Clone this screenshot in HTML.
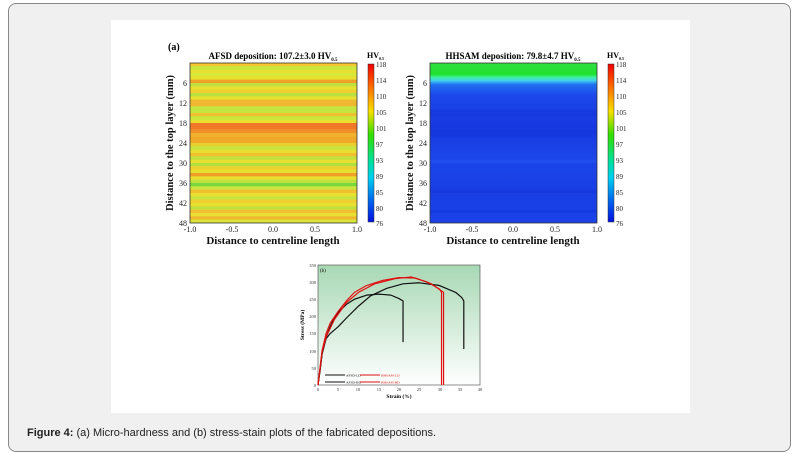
<!DOCTYPE html>
<html><head><meta charset="utf-8"><style>
html,body{margin:0;padding:0;background:#fff;}
body{width:801px;height:454px;position:relative;overflow:hidden;font-family:"Liberation Sans",sans-serif;}
#frame{position:absolute;left:8px;top:3px;width:781px;height:447px;border:1px solid #888;border-radius:8px;background:#f0f0f0;}
#white{position:absolute;left:111px;top:20px;width:579px;height:393px;background:#fff;}
#cap{position:absolute;left:27px;top:427px;font-size:11px;color:#222;}
svg{position:absolute;left:0;top:0;}
</style></head><body>
<div id="frame"></div>
<div id="white"></div>
<div id="cap"><b>Figure 4:</b> (a) Micro-hardness and (b) stress-stain plots of the fabricated depositions.</div>
<svg width="801" height="454" viewBox="0 0 801 454" font-family="Liberation Serif, serif">
<defs>
<linearGradient id="cb" x1="0" y1="0" x2="0" y2="1">
<stop offset="0" stop-color="#f00000"/><stop offset="0.15" stop-color="#ff7000"/><stop offset="0.3" stop-color="#f8e000"/><stop offset="0.45" stop-color="#30e000"/><stop offset="0.62" stop-color="#00e0a0"/><stop offset="0.72" stop-color="#00d0f0"/><stop offset="0.85" stop-color="#0070f0"/><stop offset="1" stop-color="#0010e0"/>
</linearGradient>
<linearGradient id="bg" x1="0" y1="0" x2="0" y2="1"><stop offset="0" stop-color="#a8d8b4"/><stop offset="1" stop-color="#ffffff"/></linearGradient>
<filter id="bl"><feGaussianBlur stdDeviation="0 0.6"/></filter>
</defs>
<text x="168" y="50" font-size="10" font-weight="bold">(a)</text>
<!-- left heatmap -->
<svg x="190" y="63" width="167" height="160" viewBox="0 0 1 48" preserveAspectRatio="none">
<g>
<rect x="0" y="0" width="1" height="48" fill="#e8e030"/>
<rect x="0" y="0" width="1" height="1" fill="#f5c830"/><rect x="0" y="1" width="1" height="1" fill="#c8e840"/><rect x="0" y="3" width="1" height="1" fill="#d8e838"/><rect x="0" y="5" width="1" height="1" fill="#f0a028"/><rect x="0" y="6" width="1" height="1" fill="#c0e040"/><rect x="0" y="8" width="1" height="1" fill="#f0d030"/><rect x="0" y="9" width="1" height="1" fill="#b8e040"/><rect x="0" y="11" width="1" height="2" fill="#f0b830"/><rect x="0" y="13" width="1" height="2" fill="#c4e440"/><rect x="0" y="15" width="1" height="1" fill="#f0c030"/><rect x="0" y="16" width="1" height="1" fill="#c8e840"/><rect x="0" y="18" width="1" height="2" fill="#f07828"/><rect x="0" y="20" width="1" height="1" fill="#f09028"/><rect x="0" y="21" width="1" height="1" fill="#f0b030"/><rect x="0" y="22" width="1" height="2" fill="#f0a828"/><rect x="0" y="24" width="1" height="1" fill="#e8d030"/><rect x="0" y="25" width="1" height="1" fill="#c8e440"/><rect x="0" y="27" width="1" height="1" fill="#f0c030"/><rect x="0" y="28" width="1" height="1" fill="#c0e040"/><rect x="0" y="30" width="1" height="1" fill="#b0e040"/><rect x="0" y="31" width="1" height="1" fill="#f0d030"/><rect x="0" y="33" width="1" height="1" fill="#f0a028"/><rect x="0" y="35" width="1" height="1" fill="#c0e040"/><rect x="0" y="36" width="1" height="1" fill="#78d840"/><rect x="0" y="37" width="1" height="1" fill="#c8e440"/><rect x="0" y="38" width="1" height="1" fill="#f0c030"/><rect x="0" y="40" width="1" height="1" fill="#c8e440"/><rect x="0" y="41" width="1" height="1" fill="#f0d030"/><rect x="0" y="43" width="1" height="1" fill="#c0e040"/><rect x="0" y="44" width="1" height="1" fill="#f0c030"/><rect x="0" y="46" width="1" height="1" fill="#f0b830"/><rect x="0" y="47" width="1" height="1" fill="#d8e438"/>
</g></svg>
<rect x="190" y="63" width="167" height="160" fill="none" stroke="#333" stroke-width="0.8"/>
<text x="273" y="59" font-size="9" font-weight="bold" text-anchor="middle">AFSD deposition: 107.2±3.0 HV<tspan font-size="5" dy="2">0.5</tspan></text>
<!-- right heatmap -->
<svg x="430" y="63" width="167" height="160" viewBox="0 0 1 48" preserveAspectRatio="none">
<defs><linearGradient id="rg" x1="0" y1="0" x2="0" y2="1">
<stop offset="0" stop-color="#30e040"/><stop offset="0.07" stop-color="#20e030"/><stop offset="0.09" stop-color="#40f0a0"/><stop offset="0.11" stop-color="#40d0f0"/><stop offset="0.135" stop-color="#2070f0"/><stop offset="0.2" stop-color="#1c48ea"/><stop offset="0.4" stop-color="#1638e0"/><stop offset="0.6" stop-color="#1c46ea"/><stop offset="0.8" stop-color="#183ee4"/><stop offset="1" stop-color="#1a42e8"/>
</linearGradient></defs>
<rect x="0" y="0" width="1" height="48" fill="url(#rg)"/>
<g opacity="0.35"><rect x="0" y="14" width="1" height="2" fill="#1030d8"/><rect x="0" y="20" width="1" height="2" fill="#1030d8"/><rect x="0" y="29" width="1" height="1" fill="#2860f0"/><rect x="0" y="38" width="1" height="1" fill="#1030d8"/><rect x="0" y="44" width="1" height="1" fill="#1030d8"/></g>
</svg>
<rect x="430" y="63" width="167" height="160" fill="none" stroke="#333" stroke-width="0.8"/>
<text x="513" y="59" font-size="9" font-weight="bold" text-anchor="middle">HHSAM deposition: 79.8±4.7 HV<tspan font-size="5" dy="2">0.5</tspan></text>
<!-- colorbars -->
<rect x="368" y="64" width="6" height="158" fill="url(#cb)" stroke="#333" stroke-width="0.5"/>
<rect x="608" y="64" width="6" height="158" fill="url(#cb)" stroke="#333" stroke-width="0.5"/>
<text x="367" y="58" font-size="8" font-weight="bold">HV<tspan font-size="4" dy="2">0.5</tspan></text>
<text x="607" y="58" font-size="8" font-weight="bold">HV<tspan font-size="4" dy="2">0.5</tspan></text>
<g font-size="7" fill="#222">
<text x="376" y="67">118</text><text x="376" y="83">114</text><text x="376" y="99">110</text><text x="376" y="115">105</text><text x="376" y="131">101</text><text x="376" y="147">97</text><text x="376" y="163">93</text><text x="376" y="179">89</text><text x="376" y="195">85</text><text x="376" y="211">80</text><text x="376" y="226">76</text>
<text x="616" y="67">118</text><text x="616" y="83">114</text><text x="616" y="99">110</text><text x="616" y="115">105</text><text x="616" y="131">101</text><text x="616" y="147">97</text><text x="616" y="163">93</text><text x="616" y="179">89</text><text x="616" y="195">85</text><text x="616" y="211">80</text><text x="616" y="226">76</text>
</g>
<g font-size="8" fill="#222" text-anchor="end">
<text x="187" y="86">6</text><text x="187" y="106">12</text><text x="187" y="126">18</text><text x="187" y="146">24</text><text x="187" y="166">30</text><text x="187" y="186">36</text><text x="187" y="206">42</text><text x="187" y="226">48</text>
<text x="427" y="86">6</text><text x="427" y="106">12</text><text x="427" y="126">18</text><text x="427" y="146">24</text><text x="427" y="166">30</text><text x="427" y="186">36</text><text x="427" y="206">42</text><text x="427" y="226">48</text>
</g>
<g font-size="8" fill="#222" text-anchor="middle">
<text x="190" y="232">-1.0</text><text x="232" y="232">-0.5</text><text x="273" y="232">0.0</text><text x="315" y="232">0.5</text><text x="357" y="232">1.0</text>
<text x="430" y="232">-1.0</text><text x="472" y="232">-0.5</text><text x="513" y="232">0.0</text><text x="555" y="232">0.5</text><text x="597" y="232">1.0</text>
</g>
<g font-size="11" font-weight="bold" text-anchor="middle" fill="#111">
<text x="273" y="244">Distance to centreline length</text>
<text x="513" y="244">Distance to centreline length</text>
</g>
<g font-size="10.5" font-weight="bold" text-anchor="middle" fill="#111">
<text transform="translate(173,143) rotate(-90)">Distance to the top layer (mm)</text>
<text transform="translate(413,143) rotate(-90)">Distance to the top layer (mm)</text>
</g>
<!-- bottom stress-strain -->
<rect x="318" y="265" width="162" height="120" fill="url(#bg)" stroke="#444" stroke-width="0.6"/>
<text x="320" y="272" font-size="5">(b)</text>
<g font-size="4.5" fill="#333" text-anchor="end">
<text x="316" y="387">0</text><text x="316" y="370">50</text><text x="316" y="353">100</text><text x="316" y="335">150</text><text x="316" y="318">200</text><text x="316" y="301">250</text><text x="316" y="284">300</text><text x="316" y="267">350</text>
</g>
<g font-size="4.5" fill="#333" text-anchor="middle">
<text x="318" y="391">0</text><text x="338" y="391">5</text><text x="358" y="391">10</text><text x="379" y="391">15</text><text x="399" y="391">20</text><text x="419" y="391">25</text><text x="440" y="391">30</text><text x="460" y="391">35</text><text x="480" y="391">40</text>
</g>
<text x="399" y="398" font-size="5.5" font-weight="bold" text-anchor="middle">Strain (%)</text>
<text transform="translate(304,325) rotate(-90)" font-size="5.5" font-weight="bold" text-anchor="middle">Stress (MPa)</text>
<g transform="translate(318,385) scale(4.05,-0.343)" fill="none" stroke-linejoin="round">
<polyline vector-effect="non-scaling-stroke" stroke="#111" stroke-width="1.2" points="0,0 0.5,40 1,90 2,140 3,170 4,195 5,212 7,235 9,250 12,262 15,265 18,262 20,252 21,245 21,125"/>
<polyline vector-effect="non-scaling-stroke" stroke="#111" stroke-width="1.2" points="0,0 1,90 2,135 3,150 5,170 7,195 10,230 13,260 17,282 21,295 25,298 30,290 34,270 35.5,255 36,245 36,105"/>
<polyline vector-effect="non-scaling-stroke" stroke="#e01010" stroke-width="1.2" points="0,0 1,100 2,150 3,180 5,215 7,245 9,270 12,290 16,305 20,313 24,312 28,295 31,270 31,0"/>
<polyline vector-effect="non-scaling-stroke" stroke="#e01010" stroke-width="1.2" points="0,0 1,95 2,140 4,190 7,240 10,270 14,295 19,310 23,315 27,300 30,280 30.5,270 30.5,0"/>
</g>
<g font-size="3.5">
<line x1="325" y1="375" x2="345" y2="375" stroke="#111" stroke-width="1"/><text x="346" y="376.5">AFSD-LD</text>
<line x1="325" y1="382" x2="345" y2="382" stroke="#111" stroke-width="1"/><text x="346" y="383.5">AFSD-BD</text>
<line x1="360" y1="375" x2="380" y2="375" stroke="#e01010" stroke-width="1"/><text x="381" y="376.5" fill="#e01010">HHSAM-LD</text>
<line x1="360" y1="382" x2="380" y2="382" stroke="#e01010" stroke-width="1"/><text x="381" y="383.5" fill="#e01010">HHSAM-BD</text>
</g>
</svg>
</body></html>
